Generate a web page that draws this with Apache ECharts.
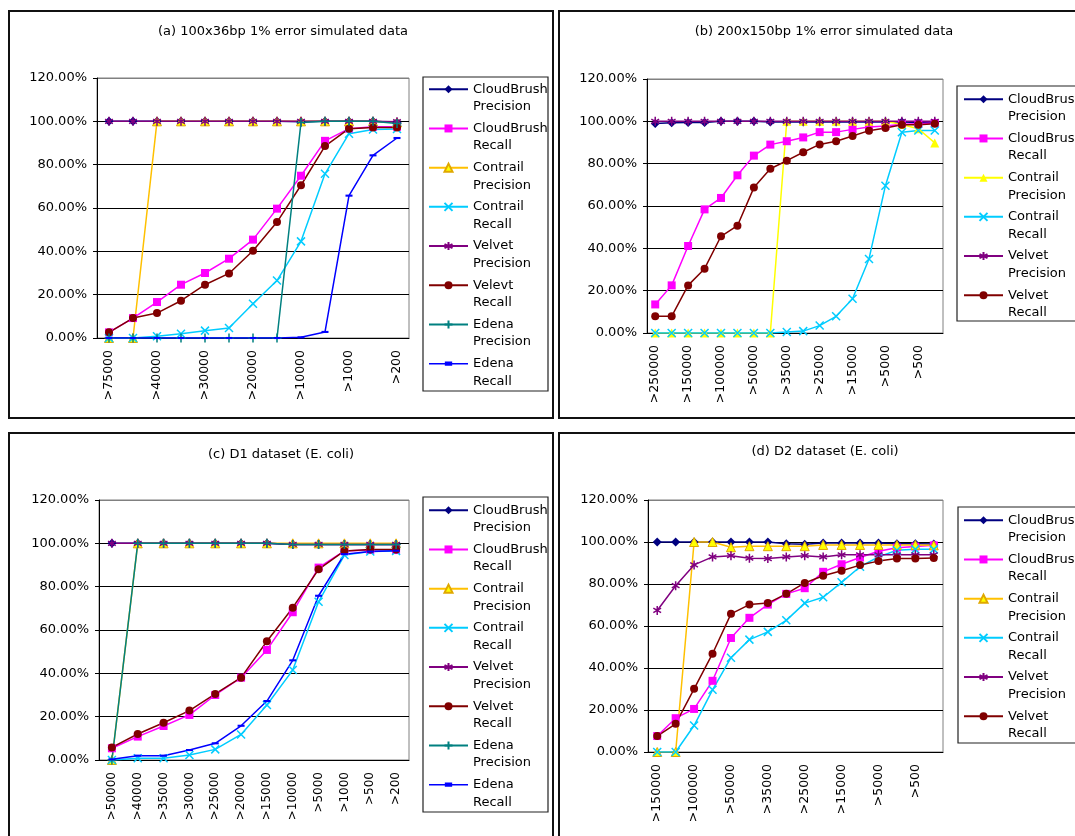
<!DOCTYPE html>
<html>
<head>
<meta charset="utf-8">
<title>Precision / Recall</title>
<script src="https://cdn.jsdelivr.net/npm/echarts@6/dist/echarts.min.js"></script>
<style>
  body { margin: 0; background: #fff; width: 1075px; height: 836px; overflow: hidden; position: relative; }
  .panel { position: absolute; border: 2px solid #111; box-sizing: border-box; background: #fff; }
</style>
</head>
<body>
<div id="pa" class="panel" style="left:8px;top:10px;width:546px;height:409px"></div>
<div id="pb" class="panel" style="left:558px;top:10px;width:560px;height:409px"></div>
<div id="pc" class="panel" style="left:8px;top:432px;width:546px;height:420px"></div>
<div id="pd" class="panel" style="left:558px;top:432px;width:560px;height:420px"></div>
<script>
// ---- data (percent) ----
var catsA = [">75000", ">50000", ">40000", ">35000", ">30000", ">25000", ">20000", ">15000", ">10000", ">5000", ">1000", ">500", ">200"];
var cbPrecA = [100, 100, 100, 100, 100, 100, 100, 100, 99.8, 100, 100, 100, 99.5];
var cbRecA = [2.6, 9.2, 16.6, 24.6, 30, 36.6, 45.4, 59.7, 74.9, 91, 96.6, 97.5, 97.5];
var ctPrecA = [0, 0, 100, 100, 100, 100, 100, 100, 100, 100, 100, 100, 99.5];
var ctRecA = [0, 0, 0.8, 2, 3.4, 4.6, 15.8, 26.5, 44.6, 75.8, 94.3, 96.2, 96.5];
var vePrecA = [100, 100, 100, 100, 100, 100, 100, 100, 100, 100, 100, 100, 99.8];
var veRecA = [2.6, 9.2, 11.5, 17.2, 24.6, 29.8, 40.3, 53.5, 70.5, 88.6, 96.6, 97.2, 97.2];
var edPrecA = [0, 0, 0, 0, 0, 0, 0, 0, 99.5, 100, 100, 100, 99];
var edRecA = [0, 0, 0, 0, 0, 0, 0, 0, 0.3, 2.8, 65.7, 84.3, 92.3];

var catsB = [">250000", ">200000", ">150000", ">120000", ">100000", ">75000", ">50000", ">40000", ">35000", ">30000", ">25000", ">20000", ">15000", ">10000", ">5000", ">1000", ">500", ">200"];
var cbPrecB = [99, 99.3, 99.5, 99.5, 100, 100, 100, 99.7, 99.7, 99.7, 99.7, 99.7, 99.7, 99.7, 99.7, 99.7, 99.5, 99.5];
var cbRecB = [13.5, 22.5, 41.1, 58.4, 63.8, 74.5, 83.8, 89, 90.6, 92.4, 94.9, 94.9, 96.2, 97.3, 97.8, 98.6, 98.9, 99.2];
var ctPrecB = [0, 0, 0, 0, 0, 0, 0, 0, 100, 100, 100, 100, 100, 100, 100, 98.5, 96.5, 89.8];
var ctRecB = [0, 0, 0, 0, 0, 0, 0, 0, 0.5, 0.9, 3.5, 7.9, 16.2, 35, 69.6, 94.8, 95.7, 95.7];
var vePrecB = [100, 100, 100, 100, 100, 100, 100, 100, 100, 100, 100, 100, 100, 100, 100, 100, 100, 100];
var veRecB = [7.9, 7.9, 22.5, 30.4, 45.7, 50.7, 68.7, 77.6, 81.4, 85.4, 89.1, 90.6, 93.1, 95.6, 96.9, 98.4, 98.4, 98.9];

var catsC = [">50000", ">40000", ">35000", ">30000", ">25000", ">20000", ">15000", ">10000", ">5000", ">1000", ">500", ">200"];
var cbPrecC = [100, 100, 100, 100, 100, 100, 100, 99.5, 99.5, 99.5, 99.5, 99.5];
var cbRecC = [5.4, 10.8, 15.7, 20.8, 30, 38, 50.8, 68.2, 88.8, 96.5, 96.9, 96.9];
var ctPrecC = [0, 100, 100, 100, 100, 100, 100, 100, 100, 100, 100, 100];
var ctRecC = [0, 0.8, 0.8, 2.3, 4.9, 11.8, 25.4, 41.5, 73, 94.6, 96.2, 96.5];
var vePrecC = [100, 100, 100, 100, 100, 100, 100, 99.5, 99.5, 99.5, 99.5, 99.5];
var veRecC = [5.8, 12, 17.2, 22.8, 30.5, 38, 54.8, 70.3, 88, 96.5, 97.2, 97.2];
var edPrecC = [0, 100, 100, 100, 100, 100, 100, 99.5, 99.5, 99.5, 99.5, 99.5];
var edRecC = [0.3, 2, 2, 4.6, 7.7, 15.8, 27.2, 46, 75.8, 95, 96.2, 96.6];

var catsD = [">150000", ">120000", ">100000", ">75000", ">50000", ">40000", ">35000", ">30000", ">25000", ">20000", ">15000", ">10000", ">5000", ">1000", ">500", ">200"];
var cbPrecD = [100, 100, 100, 100, 100, 100, 100, 99.2, 98.9, 99.5, 99.5, 99.5, 99.5, 99.2, 99.2, 99];
var cbRecD = [7.6, 16.1, 20.5, 33.9, 54.3, 63.9, 70.2, 75.3, 78, 85.8, 89.4, 92.6, 95.6, 97.3, 97.8, 98.4];
var ctPrecD = [0, 0, 100, 100, 97.5, 98, 98, 98, 98, 98.6, 98.6, 98.6, 98.6, 98.6, 98.6, 98.4];
var ctRecD = [0, 0, 12.6, 29.6, 44.9, 53.5, 57.2, 62.7, 70.9, 73.7, 80.8, 88.2, 92.9, 96.1, 96.5, 96.5];
var vePrecD = [67.4, 79.2, 89.1, 92.9, 93.5, 92.3, 92.1, 92.9, 93.5, 92.9, 93.9, 93.9, 93.9, 93.9, 93.9, 93.9];
var veRecD = [7.6, 13.4, 30.1, 46.8, 65.8, 70.2, 70.9, 75.3, 80.5, 83.9, 86.3, 89, 90.9, 92.1, 92.1, 92.4];

var yTicks = [0, 20, 40, 60, 80, 100, 120];

// marker / line looks
var FONT = "DejaVu Sans";
var looks = {
  cbPrec: { symbol: "diamond", size: 9, color: "#000080" },
  cbRec: { symbol: "rect", size: 8, color: "#FF00FF" },
  ctPrec: { symbol: "triangle", size: 9, color: "#FFC000", fill: "#FFFF00", border: "#E0A800", bw: 1 },
  ctPrecY: { symbol: "triangle", size: 9, color: "#FFFF00" },
  ctRec: { symbol: "path://M0,0L10,10M10,0L0,10", size: 8, color: "#00CCFF", bw: 1.5 },
  vePrec: { symbol: "path://M5,0V10M0.7,2.5L9.3,7.5M0.7,7.5L9.3,2.5", size: 9, color: "#800080", bw: 1.5 },
  veRec: { symbol: "circle", size: 8, color: "#800000" },
  edPrec: { symbol: "path://M5,0V10M0,5H10", size: 9, color: "#008080", bw: 1.5 },
  edRec: { symbol: "path://M0,0H10V3H0Z", size: 7, color: "#0000FF",
    // legend gets a line with a flat dash, the default square looks wrong
    legendIcon: "path://M0,0M0,10M0,5H40M17,3.5H23V6.5H17Z" }
};

function line(name, data, key) {
  var st = looks[key];
  return {
    name: name,
    type: "line",
    data: data,
    symbol: st.symbol,
    symbolSize: st.size,
    symbolKeepAspect: true,
    lineStyle: { width: 1.5, color: st.color },
    itemStyle: {
      color: st.fill || st.color,
      borderColor: st.border || st.color,
      borderWidth: st.bw || 0
    },
    _key: key
  };
}

function makeChart(id, cfg) {
  var chart = echarts.init(document.getElementById(id));
  var legendData = cfg.series.map(function (s) {
    var st = looks[s._key];
    if (st.legendIcon) {
      return { name: s.name, icon: st.legendIcon, itemStyle: { color: st.color, borderColor: st.color, borderWidth: 1.5 } };
    }
    return s.name;
  });
  chart.setOption({
    animation: false,
    textStyle: { fontFamily: FONT },
    graphic: [
      {
        type: "text",
        x: cfg.titleX,
        y: cfg.titleY,
        style: { text: cfg.title, fontSize: 13, fontFamily: FONT, fill: "#000", textAlign: "center", textVerticalAlign: "middle" }
      },
      {
        type: "rect",
        shape: cfg.box,
        style: { fill: "none", stroke: "#222", lineWidth: 1.2 }
      }
    ],
    grid: {
      left: cfg.grid[0], top: cfg.grid[1], width: cfg.grid[2], height: cfg.grid[3],
      show: true, borderColor: "#808080", borderWidth: 1, backgroundColor: "#fff"
    },
    legend: {
      orient: "vertical",
      left: cfg.legend[0],
      top: cfg.legend[1],
      padding: 0,
      itemGap: -13.3,
      itemWidth: 39,
      itemHeight: 10,
      selectedMode: false,
      data: legendData,
      // empty first line keeps the name on the icon row, second word below it
      formatter: function (n) { return "\n" + n.replace(" ", "\n"); },
      textStyle: { fontSize: 13, fontFamily: FONT, color: "#000", lineHeight: 17.5 }
    },
    xAxis: {
      type: "category",
      data: cfg.cats,
      boundaryGap: true,
      axisLine: { lineStyle: { color: "#000", width: 1 } },
      axisTick: { interval: 0, length: 5, lineStyle: { color: "#000" } },
      axisLabel: { interval: cfg.labelEvery, rotate: 90, margin: 12, fontSize: cfg.xFont, color: "#000", fontFamily: FONT },
      splitLine: { show: false }
    },
    yAxis: {
      type: "value",
      min: yTicks[0],
      max: yTicks[yTicks.length - 1],
      interval: 20,
      axisLine: { show: true, lineStyle: { color: "#000", width: 1 } },
      axisTick: { show: true, length: 4, lineStyle: { color: "#000" } },
      axisLabel: {
        margin: 10, fontSize: 13, color: "#000", fontFamily: FONT,
        formatter: function (v) { return v.toFixed(2) + "%"; }
      },
      splitLine: { lineStyle: { color: ["#000", "#000", "#000", "#000", "#000", "#000", "#808080"], width: 1 } }
    },
    series: cfg.series
  });
  return chart;
}

makeChart("pa", {
  title: "(a) 100x36bp 1% error simulated data",
  titleX: 273, titleY: 20,
  grid: [87, 66, 312, 260],
  legend: [418, 51],
  box: { x: 413, y: 65, width: 125, height: 314 },
  cats: catsA, labelEvery: 1, xFont: 12.5,
  series: [
    line("CloudBrush Precision", cbPrecA, "cbPrec"),
    line("CloudBrush Recall", cbRecA, "cbRec"),
    line("Contrail Precision", ctPrecA, "ctPrec"),
    line("Contrail Recall", ctRecA, "ctRec"),
    line("Velvet Precision", vePrecA, "vePrec"),
    line("Velevt Recall", veRecA, "veRec"),
    line("Edena Precision", edPrecA, "edPrec"),
    line("Edena Recall", edRecA, "edRec")
  ]
});

makeChart("pb", {
  title: "(b) 200x150bp 1% error simulated data",
  titleX: 264, titleY: 20,
  grid: [87, 67, 296, 254],
  legend: [403, 61],
  box: { x: 397, y: 74, width: 200, height: 235 },
  cats: catsB, labelEvery: 1, xFont: 12.5,
  series: [
    line("CloudBrush Precision", cbPrecB, "cbPrec"),
    line("CloudBrush Recall", cbRecB, "cbRec"),
    line("Contrail Precision", ctPrecB, "ctPrecY"),
    line("Contrail Recall", ctRecB, "ctRec"),
    line("Velvet Precision", vePrecB, "vePrec"),
    line("Velvet Recall", veRecB, "veRec")
  ]
});

makeChart("pc", {
  title: "(c) D1 dataset (E. coli)",
  titleX: 271, titleY: 21,
  grid: [89, 66, 310, 260],
  legend: [418, 50],
  box: { x: 413, y: 63, width: 125, height: 315 },
  cats: catsC, labelEvery: 0, xFont: 12,
  series: [
    line("CloudBrush Precision", cbPrecC, "cbPrec"),
    line("CloudBrush Recall", cbRecC, "cbRec"),
    line("Contrail Precision", ctPrecC, "ctPrec"),
    line("Contrail Recall", ctRecC, "ctRec"),
    line("Velvet Precision", vePrecC, "vePrec"),
    line("Velvet Recall", veRecC, "veRec"),
    line("Edena Precision", edPrecC, "edPrec"),
    line("Edena Recall", edRecC, "edRec")
  ]
});

makeChart("pd", {
  title: "(d) D2 dataset (E. coli)",
  titleX: 265, titleY: 18,
  grid: [88, 66, 295, 252],
  legend: [403, 60],
  box: { x: 398, y: 73, width: 200, height: 236 },
  cats: catsD, labelEvery: 1, xFont: 12.5,
  series: [
    line("CloudBrush Precision", cbPrecD, "cbPrec"),
    line("CloudBrush Recall", cbRecD, "cbRec"),
    line("Contrail Precision", ctPrecD, "ctPrec"),
    line("Contrail Recall", ctRecD, "ctRec"),
    line("Velvet Precision", vePrecD, "vePrec"),
    line("Velvet Recall", veRecD, "veRec")
  ]
});
</script>
</body>
</html>
